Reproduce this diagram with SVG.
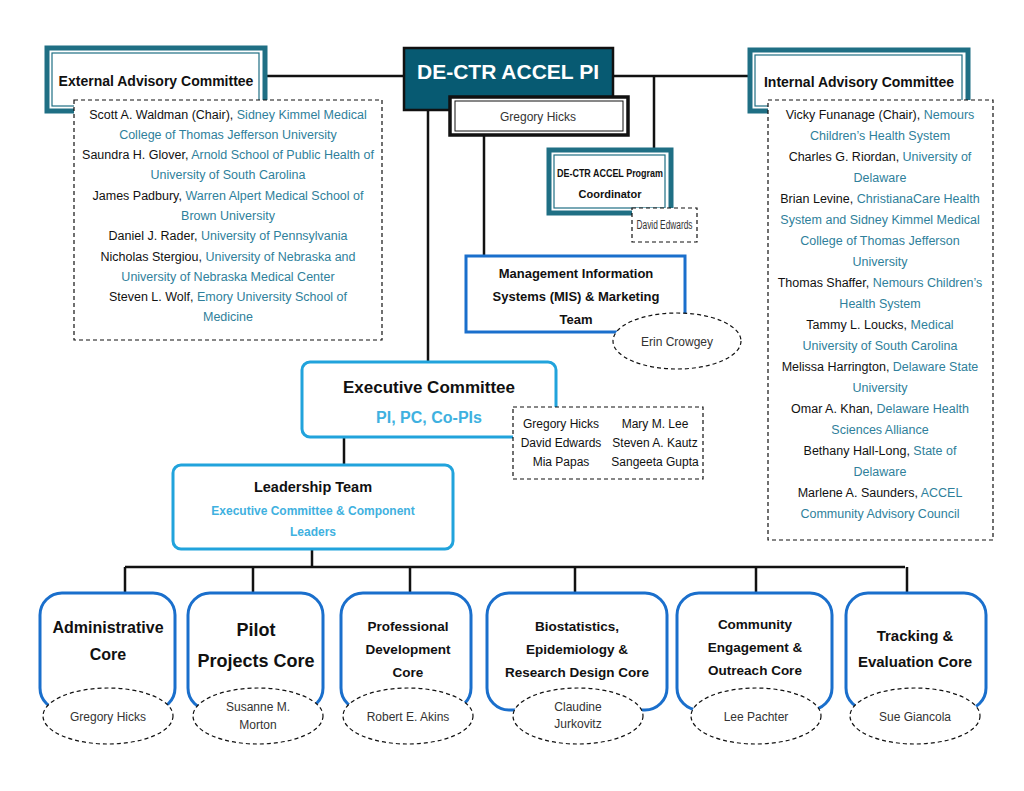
<svg xmlns="http://www.w3.org/2000/svg" width="1024" height="791" viewBox="0 0 1024 791">
<style>
text{font-family:"Liberation Sans",Arial,sans-serif;text-anchor:middle;fill:#111}
.b{font-weight:bold}
.l{font-size:12.5px}
.u{fill:#2f7f9b}
.lb{fill:#3fb1e0}
.dash{fill:#fff;stroke:#111;stroke-width:1.2;stroke-dasharray:4 3}
.core{fill:#fff;stroke:#1a6fcc;stroke-width:3}
.conn{stroke:#111;stroke-width:2.5;fill:none}
.tealo{fill:#fff;stroke:#1f6f84;stroke-width:5}
.teali{fill:none;stroke:#1f6f84;stroke-width:1.2}
.cn{font-size:12px;fill:#333}
</style>
<rect width="1024" height="791" fill="#fff"/>
<g id="connectors">
<path class="conn" d="M265 76H403M613 76H748M654 76V148M484 136V256M428 110V362M344 437V465M312 549V567M125 567H905M125 567V593M253 567V593M410 567V593M575 567V593M756 567V593M907 567V593"/>
</g>
<g id="pi">
<rect x="404" y="48" width="209" height="62" fill="#075a72" stroke="#111" stroke-width="2.5"/>
<text x="508" y="79" class="b" font-size="21" style="fill:#fff">DE-CTR ACCEL PI</text>
</g>
<g id="hicks">
<rect x="450" y="97" width="178" height="38" fill="#fff" stroke="#111" stroke-width="3.5"/>
<rect x="455" y="101" width="168" height="30" fill="none" stroke="#111" stroke-width="1"/>
<text x="538" y="121" font-size="12" style="fill:#333">Gregory  Hicks</text>
</g>
<g id="external">
<rect x="47" y="48" width="218" height="63" class="tealo"/>
<rect x="52" y="53" width="207" height="53" class="teali"/>
<text x="156" y="86" class="b" font-size="14">External Advisory Committee</text>
<rect x="74" y="100" width="308" height="240" class="dash"/>
<g class="l">
<text x="228" y="119">Scott A. Waldman (Chair), <tspan class="u">Sidney Kimmel Medical</tspan></text>
<text x="228" y="139" class="u">College of Thomas Jefferson University</text>
<text x="228" y="159">Saundra H. Glover, <tspan class="u">Arnold School of Public Health of</tspan></text>
<text x="228" y="179" class="u">University of South Carolina</text>
<text x="228" y="200">James Padbury, <tspan class="u">Warren Alpert Medical School of</tspan></text>
<text x="228" y="220" class="u">Brown University</text>
<text x="228" y="240">Daniel J. Rader, <tspan class="u">University of Pennsylvania</tspan></text>
<text x="228" y="261">Nicholas Stergiou, <tspan class="u">University of Nebraska and</tspan></text>
<text x="228" y="281" class="u">University of Nebraska Medical Center</text>
<text x="228" y="301">Steven L. Wolf, <tspan class="u">Emory University School of</tspan></text>
<text x="228" y="321" class="u">Medicine</text>
</g>
</g>
<g id="internal">
<rect x="750" y="50" width="218" height="61" class="tealo"/>
<rect x="755" y="55" width="207" height="51" class="teali"/>
<text x="859" y="87" class="b" font-size="14">Internal  Advisory Committee</text>
<rect x="768" y="100" width="225" height="440" class="dash"/>
<g class="l">
<text x="880" y="119">Vicky Funanage (Chair), <tspan class="u">Nemours</tspan></text>
<text x="880" y="140" class="u">Children’s Health  System</text>
<text x="880" y="161">Charles G. Riordan, <tspan class="u">University of</tspan></text>
<text x="880" y="182" class="u">Delaware</text>
<text x="880" y="203">Brian Levine, <tspan class="u">ChristianaCare Health</tspan></text>
<text x="880" y="224" class="u">System and Sidney Kimmel Medical</text>
<text x="880" y="245" class="u">College of Thomas Jefferson</text>
<text x="880" y="266" class="u">University</text>
<text x="880" y="287">Thomas Shaffer, <tspan class="u">Nemours Children’s</tspan></text>
<text x="880" y="308" class="u">Health System</text>
<text x="880" y="329">Tammy L. Loucks, <tspan class="u">Medical</tspan></text>
<text x="880" y="350" class="u">University of South Carolina</text>
<text x="880" y="371">Melissa Harrington, <tspan class="u">Delaware State</tspan></text>
<text x="880" y="392" class="u">University</text>
<text x="880" y="413">Omar A. Khan, <tspan class="u">Delaware Health</tspan></text>
<text x="880" y="434" class="u">Sciences Alliance</text>
<text x="880" y="455">Bethany Hall-Long, <tspan class="u">State of</tspan></text>
<text x="880" y="476" class="u">Delaware</text>
<text x="880" y="497">Marlene A. Saunders, <tspan class="u">ACCEL</tspan></text>
<text x="880" y="518" class="u">Community Advisory Council</text>
</g>
</g>
<g id="coordinator">
<rect x="549" y="150" width="122" height="63" class="tealo"/>
<rect x="554" y="155" width="111" height="53" class="teali"/>
<text x="610" y="177" class="b" font-size="11" textLength="106" lengthAdjust="spacingAndGlyphs">DE-CTR ACCEL Program</text>
<text x="610" y="198" class="b" font-size="11">Coordinator</text>
<rect x="632" y="208" width="65" height="34" class="dash"/>
<text x="664.5" y="229" class="cn" font-size="10" textLength="56" lengthAdjust="spacingAndGlyphs">David Edwards</text>
</g>
<g id="mis">
<rect x="466" y="256" width="219" height="76" fill="#fff" stroke="#1a6fcc" stroke-width="3"/>
<text x="576" y="278" class="b" font-size="13">Management Information</text>
<text x="576" y="301" class="b" font-size="13">Systems (MIS) &amp; Marketing</text>
<text x="576" y="324" class="b" font-size="13">Team</text>
<ellipse cx="677" cy="341" rx="64" ry="28" class="dash"/>
<text x="677" y="346" class="cn">Erin Crowgey</text>
</g>
<g id="executive">
<rect x="302" y="362" width="254" height="75" rx="8" fill="#fff" stroke="#21a3dc" stroke-width="3"/>
<text x="429" y="393" class="b" font-size="17">Executive Committee</text>
<text x="429" y="423" class="b lb" font-size="16">PI, PC, Co-PIs</text>
<rect x="513" y="407" width="190" height="72" class="dash"/>
<g class="cn" font-size="11.5">
<text x="561" y="428">Gregory Hicks</text><text x="655" y="428">Mary M. Lee</text>
<text x="561" y="447">David Edwards</text><text x="655" y="447">Steven A. Kautz</text>
<text x="561" y="466">Mia Papas</text><text x="655" y="466">Sangeeta Gupta</text>
</g>
</g>
<g id="leadership">
<rect x="173" y="465" width="280" height="84" rx="8" fill="#fff" stroke="#21a3dc" stroke-width="3"/>
<text x="313" y="492" class="b" font-size="14.5">Leadership Team</text>
<text x="313" y="515" class="b lb" font-size="12">Executive Committee &amp; Component</text>
<text x="313" y="536" class="b lb" font-size="12">Leaders</text>
</g>
<g id="core1">
<rect x="40" y="593" width="135" height="117" rx="22" class="core"/>
<text x="108" y="633" class="b" font-size="16">Administrative</text>
<text x="108" y="660" class="b" font-size="16">Core</text>
<ellipse cx="108" cy="716" rx="65" ry="28" class="dash"/>
<text x="108" y="721" class="cn">Gregory Hicks</text>
</g>
<g id="core2">
<rect x="188" y="593" width="135" height="117" rx="22" class="core"/>
<text x="256" y="636" class="b" font-size="18">Pilot</text>
<text x="256" y="667" class="b" font-size="18">Projects Core</text>
<ellipse cx="258" cy="716" rx="65" ry="28" class="dash"/>
<text x="258" y="711" class="cn" font-size="10.5">Susanne M.</text>
<text x="258" y="729" class="cn" font-size="10.5">Morton</text>
</g>
<g id="core3">
<rect x="341" y="593" width="130" height="117" rx="22" class="core"/>
<text x="408" y="631" class="b" font-size="13.5">Professional</text>
<text x="408" y="654" class="b" font-size="13.5">Development</text>
<text x="408" y="677" class="b" font-size="13.5">Core</text>
<ellipse cx="408" cy="716" rx="65" ry="28" class="dash"/>
<text x="408" y="721" class="cn">Robert E. Akins</text>
</g>
<g id="core4">
<rect x="487" y="593" width="180" height="117" rx="22" class="core"/>
<text x="577" y="631" class="b" font-size="13.5">Biostatistics,</text>
<text x="577" y="654" class="b" font-size="13.5">Epidemiology &amp;</text>
<text x="577" y="677" class="b" font-size="13.5">Research Design Core</text>
<ellipse cx="578" cy="716" rx="65" ry="28" class="dash"/>
<text x="578" y="711" class="cn" font-size="10">Claudine</text>
<text x="578" y="728" class="cn" font-size="10">Jurkovitz</text>
</g>
<g id="core5">
<rect x="677" y="593" width="155" height="117" rx="22" class="core"/>
<text x="755" y="629" class="b" font-size="13.5">Community</text>
<text x="755" y="652" class="b" font-size="13.5">Engagement &amp;</text>
<text x="755" y="675" class="b" font-size="13.5">Outreach Core</text>
<ellipse cx="756" cy="716" rx="65" ry="28" class="dash"/>
<text x="756" y="721" class="cn">Lee Pachter</text>
</g>
<g id="core6">
<rect x="846" y="593" width="140" height="117" rx="22" class="core"/>
<text x="915" y="641" class="b" font-size="15">Tracking &amp;</text>
<text x="915" y="667" class="b" font-size="15">Evaluation Core</text>
<ellipse cx="915" cy="716" rx="65" ry="28" class="dash"/>
<text x="915" y="721" class="cn">Sue Giancola</text>
</g>
</svg>
